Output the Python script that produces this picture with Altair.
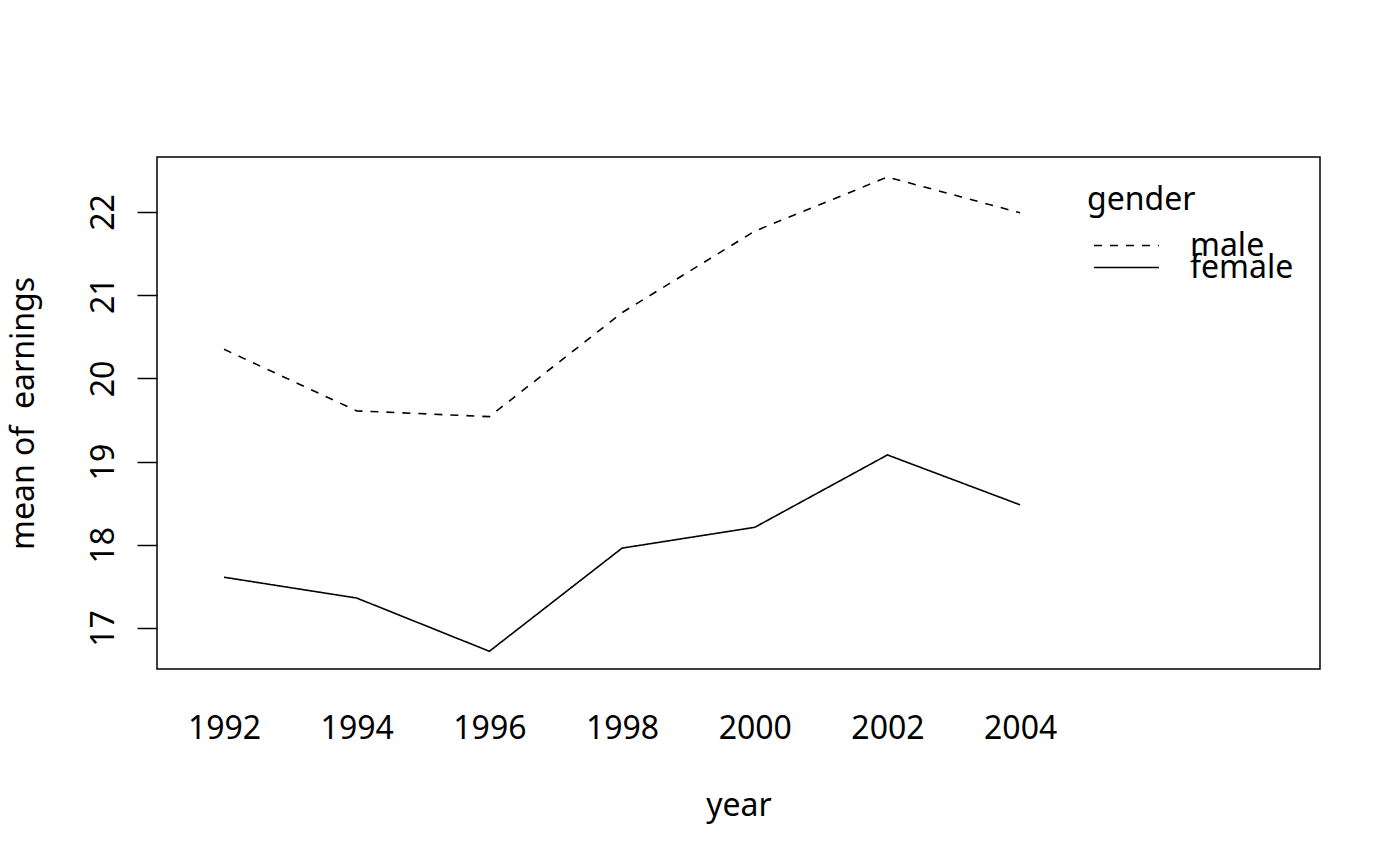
import altair as alt
import pandas as pd

years = [1992, 1994, 1996, 1998, 2000, 2002, 2004]
male = [20.35, 19.61, 19.54, 20.79, 21.77, 22.42, 21.99]
female = [17.61, 17.36, 16.72, 17.96, 18.21, 19.08, 18.48]
genders = ["male", "female"]
y_ticks = [17, 18, 19, 20, 21, 22]

rows = []
for g, vals in (("male", male), ("female", female)):
    for yr, v in zip(years, vals):
        rows.append({"year": yr, "earnings": v, "gender": g})
df = pd.DataFrame(rows)

FONT = "Noto Sans"
FS = 32

chart = (
    alt.Chart(df)
    .mark_line(color="black", strokeWidth=1.6)
    .encode(
        x=alt.X(
            "year:Q",
            scale=alt.Scale(domain=[1990.99, 2008.52], nice=False, zero=False),
            axis=alt.Axis(
                values=years,
                format="d",
                ticks=False,
                tickSize=0,
                domain=False,
                grid=False,
                labelFont=FONT,
                labelFontSize=FS,
                labelColor="black",
                labelBaseline="alphabetic",
                labelPadding=69,
                labelFlush=False,
                title="year",
                titleFont=FONT,
                titleFontSize=FS,
                titleFontWeight="normal",
                titleColor="black",
                titleBaseline="alphabetic",
                titleY=146,
            ),
        ),
        y=alt.Y(
            "earnings:Q",
            scale=alt.Scale(domain=[16.507, 22.661], nice=False, zero=False),
            axis=alt.Axis(
                values=y_ticks,
                tickSize=20,
                tickWidth=1.5,
                tickColor="black",
                domain=False,
                grid=False,
                labelFont=FONT,
                labelFontSize=FS,
                labelColor="black",
                labelAngle=270,
                labelAlign="center",
                labelBaseline="alphabetic",
                labelPadding=24,
                title="mean of\u00a0 earnings",
                titleFont=FONT,
                titleFontSize=FS,
                titleFontWeight="normal",
                titleColor="black",
                titleAngle=270,
                titleBaseline="alphabetic",
                titleX=-124,
            ),
        ),
        strokeDash=alt.StrokeDash(
            "gender:N",
            scale=alt.Scale(domain=genders, range=[[8, 8], [1, 0]]),
            legend=alt.Legend(
                orient="none",
                legendX=930,
                legendY=28,
                title="gender",
                titleFont=FONT,
                titleFontSize=FS,
                titleFontWeight="normal",
                titleColor="black",
                titlePadding=23,
                labelFont=FONT,
                labelFontSize=FS,
                labelColor="black",
                labelOffset=30,
                symbolType="stroke",
                symbolSize=4225,
                symbolStrokeColor="black",
                symbolStrokeWidth=1.6,
                symbolOffset=6,
                clipHeight=11,
                rowPadding=-20,
                padding=0,
            ),
        ),
        detail="gender:N",
    )
    .properties(
        width=1163,
        height=512,
        autosize=alt.AutoSizeParams(type="none"),
        padding={"left": 149, "top": 149, "right": 72, "bottom": 189},
    )
    .configure(background="white")
    .configure_view(stroke="black", strokeWidth=1.5)
)

chart.save("out.html", embed_options={"renderer": "svg", "actions": False})
